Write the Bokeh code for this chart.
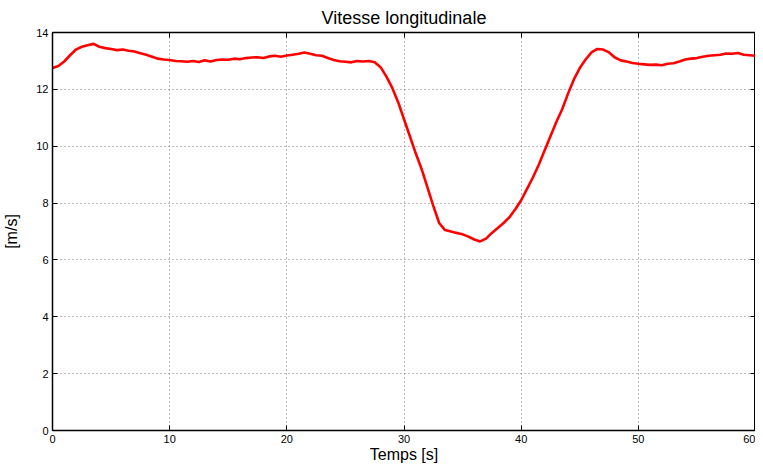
from bokeh.plotting import figure
from bokeh.models import LinearAxis, Range1d, FixedTicker, Title
from bokeh.embed import file_html
from bokeh.resources import INLINE

# Time (s) and longitudinal speed (m/s)
temps = [i * 0.5 for i in range(121)]
vitesse = [
    12.75, 12.82, 12.98, 13.20, 13.40, 13.50, 13.55, 13.60, 13.50, 13.45,
    13.42, 13.38, 13.40, 13.36, 13.33, 13.27, 13.22, 13.15, 13.08, 13.05,
    13.03, 13.00, 12.99, 12.97, 13.00, 12.96, 13.02, 12.98, 13.03, 13.05,
    13.04, 13.08, 13.06, 13.10, 13.12, 13.13, 13.10, 13.16, 13.18, 13.15,
    13.19, 13.22, 13.25, 13.30, 13.25, 13.20, 13.18, 13.10, 13.03, 12.99,
    12.97, 12.95, 13.00, 12.98, 13.00, 12.95, 12.78, 12.45, 12.05, 11.55,
    10.95, 10.35, 9.75, 9.20, 8.55, 7.90, 7.30, 7.05, 7.00, 6.95,
    6.90, 6.82, 6.72, 6.65, 6.75, 6.95, 7.12, 7.30, 7.50, 7.78,
    8.10, 8.50, 8.90, 9.35, 9.85, 10.35, 10.85, 11.30, 11.85, 12.35,
    12.75, 13.05, 13.30, 13.42, 13.40, 13.30, 13.12, 13.02, 12.98, 12.93,
    12.90, 12.88, 12.86, 12.87, 12.85, 12.90, 12.92, 12.98, 13.05, 13.08,
    13.10, 13.15, 13.18, 13.20, 13.22, 13.26, 13.25, 13.28, 13.22, 13.20,
    13.18,
]
x_ticks = [0, 10, 20, 30, 40, 50, 60]
y_ticks = [0, 2, 4, 6, 8, 10, 12, 14]
x_label = "Temps [s]"
y_label = "[m/s]"

FONT = "Liberation Sans"

p = figure(width=755, height=464, output_backend="svg", toolbar_location=None,
           x_range=Range1d(0, 60), y_range=Range1d(0, 14),
           title="Vitesse longitudinale",
           min_border_left=0, min_border_right=0, min_border_top=0, min_border_bottom=0)

p.title.align = "center"
p.title.text_font = FONT
p.title.text_font_style = "normal"
p.title.text_font_size = "18px"
p.title.text_color = "black"
p.title.standoff = 10

p.line(temps, vitesse, line_color="#ff0000", line_width=2.6)

p.outline_line_color = "black"
p.outline_line_width = 1
p.outline_line_alpha = 1

for ax, ticks in ((p.xaxis[0], x_ticks), (p.yaxis[0], y_ticks)):
    ax.ticker = FixedTicker(ticks=ticks)
    ax.major_tick_in = 5
    ax.major_tick_out = 0
    ax.minor_tick_line_color = None
    ax.axis_line_color = "black"
    ax.axis_line_width = 1.5
    ax.major_label_text_font = FONT
    ax.major_label_text_font_size = "11px"
    ax.major_label_text_color = "black"
    ax.axis_label_text_font = FONT
    ax.axis_label_text_font_style = "normal"
    ax.axis_label_text_font_size = "16px"
    ax.axis_label_text_color = "black"
    ax.major_label_standoff = 4

p.yaxis[0].axis_label = y_label
p.yaxis[0].axis_label_standoff = 13

xt = Title(text=x_label, align="center", vertical_align="top", text_font=FONT,
           text_font_size="16px", text_font_style="normal", text_color="black",
           standoff=0, offset=0)
p.add_layout(xt, "below")

for loc, ticks in (("above", x_ticks), ("right", y_ticks)):
    a = LinearAxis(ticker=FixedTicker(ticks=ticks))
    a.major_tick_in = 5
    a.major_tick_out = 0
    a.minor_tick_line_color = None
    a.axis_line_color = "black"
    a.axis_line_width = 1.5
    a.major_label_overrides = {t: "" for t in ticks}
    a.major_label_text_color = None
    a.major_label_standoff = 0
    p.add_layout(a, loc)

for g, ticks in ((p.xgrid[0], x_ticks), (p.ygrid[0], y_ticks)):
    g.ticker = FixedTicker(ticks=ticks)
    g.grid_line_color = "#777777"
    g.grid_line_dash = "1 3"
    g.grid_line_width = 1

p.background_fill_color = "white"
p.border_fill_color = "white"

open("out.html", "w").write(file_html(p, INLINE))
